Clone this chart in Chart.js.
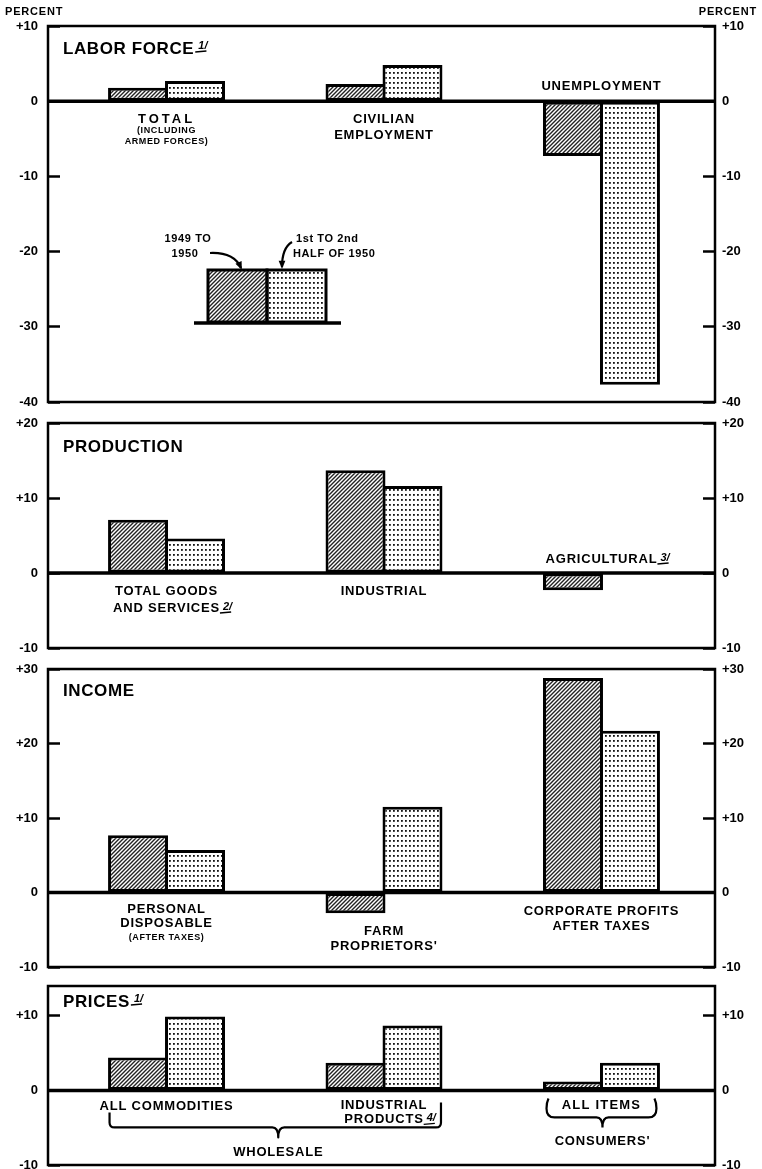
<!DOCTYPE html>
<html><head><meta charset="utf-8">
<script src="https://cdn.jsdelivr.net/npm/chart.js@4.4.1/dist/chart.umd.min.js"></script>
<style>
html,body{margin:0;padding:0;background:#fff;overflow:hidden;width:762px;height:1169px}
canvas{position:absolute;left:0}
</style></head><body>
<canvas id="c1"></canvas><canvas id="c2"></canvas><canvas id="c3"></canvas><canvas id="c4"></canvas>
<script>
// ---------- DATA ----------
const X_POS = [0, 1, 2];
const SERIES = ['1949 to 1950', '1st to 2nd half of 1950'];

const LABOR_CATS = ['Total (including armed forces)', 'Civilian employment', 'Unemployment'];
const LABOR_1949_50 = [1.8, 2.3, -7.3];
const LABOR_HALF_1950 = [2.7, 4.8, -37.7];
const LABOR_TICKS = [10, 0, -10, -20, -30, -40];

const PROD_CATS = ['Total goods and services', 'Industrial', 'Agricultural'];
const PROD_1949_50 = [7.1, 13.7, -2.3];
const PROD_HALF_1950 = [4.6, 11.6, 0];
const PROD_TICKS = [20, 10, 0, -10];

const INCOME_CATS = ['Personal disposable (after taxes)', "Farm proprietors'", 'Corporate profits after taxes'];
const INCOME_1949_50 = [7.7, -2.8, 28.8];
const INCOME_HALF_1950 = [5.7, 11.5, 21.7];
const INCOME_TICKS = [30, 20, 10, 0, -10];

const PRICE_CATS = ['Wholesale: all commodities', 'Wholesale: industrial products', "Consumers': all items"];
const PRICE_1949_50 = [4.4, 3.7, 1.2];
const PRICE_HALF_1950 = [9.9, 8.7, 3.7];
const PRICE_TICKS = [10, 0, -10];

// displayed texts
const LABOR_LABELS = [['TOTAL', '(INCLUDING', 'ARMED FORCES)'], ['CIVILIAN', 'EMPLOYMENT'], ['UNEMPLOYMENT']];
const PROD_LABELS = [['TOTAL GOODS', 'AND SERVICES'], ['INDUSTRIAL'], ['AGRICULTURAL']];
const INCOME_LABELS = [['PERSONAL', 'DISPOSABLE', '(AFTER TAXES)'], ['FARM', "PROPRIETORS'"], ['CORPORATE PROFITS', 'AFTER TAXES']];
const PRICE_LABELS = [['ALL COMMODITIES'], ['INDUSTRIAL', 'PRODUCTS'], ['ALL ITEMS']];

// ---------- STYLE / LAYOUT ----------
const FONT = '"Liberation Sans", Arial, sans-serif';
const X_MIN = -0.545, X_MAX = 2.522;
const CAT_PCT = 0.524, BAR_PCT = 1.0526;
const LBL = 13;

function hatchPattern() {
  const c = document.createElement('canvas'); c.width = 4; c.height = 4;
  const g = c.getContext('2d');
  g.fillStyle = '#fff'; g.fillRect(0, 0, 4, 4);
  g.strokeStyle = '#222'; g.lineWidth = 1.4;
  g.beginPath();
  g.moveTo(-1, 5); g.lineTo(5, -1);
  g.moveTo(-1, 1); g.lineTo(1, -1);
  g.moveTo(3, 5); g.lineTo(5, 3);
  g.stroke();
  return g.createPattern(c, 'repeat');
}
function dotPattern() {
  const c = document.createElement('canvas'); c.width = 4; c.height = 5;
  const g = c.getContext('2d');
  g.fillStyle = '#fff'; g.fillRect(0, 0, 4, 5);
  g.fillStyle = '#111'; g.fillRect(1, 2, 1.8, 1.8);
  return g.createPattern(c, 'repeat');
}
const HATCH = hatchPattern(), DOTS = dotPattern();

function txt(ctx, s, x, y, size, align, ls) {
  ctx.save();
  ctx.font = 'bold ' + size + 'px ' + FONT;
  ctx.fillStyle = '#000';
  ctx.textAlign = align || 'center';
  ctx.textBaseline = 'middle';
  ctx.letterSpacing = (ls === undefined ? 0.6 : ls) + 'px';
  ctx.fillText(s, x, y);
  const w = ctx.measureText(s).width;
  ctx.restore();
  return w;
}
function note(ctx, n, x, y) {
  ctx.save();
  ctx.font = 'bold italic 11px ' + FONT;
  ctx.fillStyle = '#000'; ctx.strokeStyle = '#000';
  ctx.textAlign = 'left'; ctx.textBaseline = 'alphabetic';
  const s = n + '/';
  ctx.fillText(s, x, y - 1);
  const w = ctx.measureText(s).width;
  ctx.lineWidth = 1.4;
  ctx.beginPath(); ctx.moveTo(x - 3, y + 2); ctx.lineTo(x + w - 1, y + 1); ctx.stroke();
  ctx.restore();
}
function title(chart, s, dy, n) {
  const a = chart.chartArea, ctx = chart.ctx;
  const w = txt(chart.ctx, s, a.left + 15, a.top + dy, 17, 'left', 0.6);
  if (n) note(ctx, n, a.left + 15 + w + 4, a.top + dy + 1);
}
// label lines: [text, dy from zero line, size, letterSpacing]
function catLabels(chart, i, lines, dx) {
  const x = chart.scales.x.getPixelForValue(X_POS[i]) + (dx || 0);
  const z = chart.scales.y.getPixelForValue(0);
  const ends = [];
  lines.forEach(l => {
    const w = txt(chart.ctx, l[0], x, z + l[1], l[2], 'center', l[3]);
    ends.push(x + w / 2);
  });
  return ends;
}
function frame(chart) {
  const {ctx, chartArea: a, scales: {y}} = chart;
  ctx.save(); ctx.strokeStyle = '#000';
  const z = y.getPixelForValue(0);
  ctx.lineWidth = 3.5;
  ctx.beginPath(); ctx.moveTo(a.left, z); ctx.lineTo(a.right, z); ctx.stroke();
  ctx.lineWidth = 2.5;
  ctx.strokeRect(a.left, a.top, a.right - a.left, a.bottom - a.top);
  ctx.restore();
}
function arrow(ctx, x0, y0, cx, cy, x1, y1) {
  ctx.save(); ctx.strokeStyle = '#000'; ctx.fillStyle = '#000';
  ctx.lineWidth = 2.2;
  ctx.beginPath(); ctx.moveTo(x0, y0); ctx.quadraticCurveTo(cx, cy, x1, y1); ctx.stroke();
  const ang = Math.atan2(y1 - cy, x1 - cx);
  ctx.beginPath(); ctx.moveTo(x1 + 2 * Math.cos(ang), y1 + 2 * Math.sin(ang));
  ctx.lineTo(x1 - 7 * Math.cos(ang - 0.5), y1 - 7 * Math.sin(ang - 0.5));
  ctx.lineTo(x1 - 7 * Math.cos(ang + 0.5), y1 - 7 * Math.sin(ang + 0.5));
  ctx.closePath(); ctx.fill();
  ctx.restore();
}

function buildChart(id, top, height, pt, pb, cats, v1, v2, ticks, min, max, draw) {
  const cv = document.getElementById(id);
  cv.width = 762; cv.height = height; cv.style.top = top + 'px';
  const yAxis = (pos) => ({
    type: 'linear', position: pos, min: min, max: max,
    afterBuildTicks: s => { s.ticks = ticks.map(v => ({value: v})); },
    afterFit: s => { s.width = pos === 'left' ? 48 : 47; s.paddingTop = 0; s.paddingBottom = 0; },
    grid: {display: true, drawOnChartArea: false, drawTicks: true, tickLength: -12, tickColor: '#000', tickWidth: 2.5},
    border: {display: false},
    ticks: {padding: pos === 'left' ? 22 : 19, color: '#000', font: {family: FONT, size: 13, weight: 'bold'},
      callback: v => (v > 0 ? '+' + v : String(v))}
  });
  const ds = (lbl, vals, bg) => ({
    label: lbl, data: X_POS.map((x, i) => ({x: x, y: vals[i]})),
    backgroundColor: bg, borderColor: '#000', borderWidth: 3, borderSkipped: false,
    categoryPercentage: CAT_PCT, barPercentage: BAR_PCT
  });
  return new Chart(cv, {
    type: 'bar',
    data: {labels: cats, datasets: [ds(SERIES[0], v1, HATCH), ds(SERIES[1], v2, DOTS)]},
    options: {
      responsive: false, animation: false, devicePixelRatio: 1,
      layout: {padding: {top: pt, bottom: pb, left: 0, right: 0}},
      plugins: {legend: {display: false}, tooltip: {enabled: false}},
      scales: {
        x: {type: 'linear', min: X_MIN, max: X_MAX, offset: false, display: false,
            afterBuildTicks: s => { s.ticks = X_POS.map(v => ({value: v})); }},
        y: yAxis('left'), y2: yAxis('right')
      }
    },
    plugins: [{id: 'deco', afterDatasetsDraw(chart) { frame(chart); draw(chart); }}]
  });
}

// ---------- PANEL 1 : LABOR FORCE ----------
buildChart('c1', 0, 412, 26, 10, LABOR_CATS, LABOR_1949_50, LABOR_HALF_1950, LABOR_TICKS, -40, 10, chart => {
  const ctx = chart.ctx;
  txt(ctx, 'PERCENT', 5, 12, 11, 'left', 0.8);
  txt(ctx, 'PERCENT', 757, 12, 11, 'right', 0.8);
  title(chart, 'LABOR FORCE', 23, '1');
  const L = LABOR_LABELS;
  catLabels(chart, 0, [[L[0][0], 18, LBL, 3], [L[0][1], 29, 9, 0.6], [L[0][2], 40, 9, 0.6]]);
  catLabels(chart, 1, [[L[1][0], 18, LBL, 0.8], [L[1][1], 34, LBL, 0.8]]);
  catLabels(chart, 2, [[L[2][0], -15, LBL, 0.8]]);
  // legend
  const bx = 208, bw = 59, by = 270, bh = 52;
  ctx.save();
  ctx.fillStyle = HATCH; ctx.fillRect(bx, by, bw, bh);
  ctx.fillStyle = DOTS; ctx.fillRect(bx + bw, by, bw, bh);
  ctx.strokeStyle = '#000'; ctx.lineWidth = 3;
  ctx.strokeRect(bx, by, bw, bh); ctx.strokeRect(bx + bw, by, bw, bh);
  ctx.lineWidth = 3.5;
  ctx.beginPath(); ctx.moveTo(bx - 14, by + bh + 1); ctx.lineTo(bx + 2 * bw + 15, by + bh + 1); ctx.stroke();
  ctx.restore();
  txt(ctx, '1949 TO', 188, by - 31, 11, 'center', 0.6);
  txt(ctx, '1950', 185, by - 16, 11, 'center', 0.6);
  txt(ctx, '1st TO 2nd', 296, by - 31, 11, 'left', 0.6);
  txt(ctx, 'HALF OF 1950', 293, by - 16, 11, 'left', 0.6);
  arrow(ctx, 210, by - 17, 234, by - 18, 241, by - 2);
  arrow(ctx, 292, by - 28, 282, by - 22, 282, by - 3);
});

// ---------- PANEL 2 : PRODUCTION ----------
buildChart('c2', 412, 246, 11, 10, PROD_CATS, PROD_1949_50, PROD_HALF_1950, PROD_TICKS, -10, 20, chart => {
  title(chart, 'PRODUCTION', 24);
  const L = PROD_LABELS;
  const z = chart.scales.y.getPixelForValue(0);
  catLabels(chart, 0, [[L[0][0], 18, LBL, 0.8]]);
  const e = catLabels(chart, 0, [[L[0][1], 35, LBL, 0.8]]);
  note(chart.ctx, '2', e[0] + 3, z + 38);
  catLabels(chart, 1, [[L[1][0], 18, LBL, 0.8]]);
  const e2 = catLabels(chart, 2, [[L[2][0], -14, LBL, 0.8]]);
  note(chart.ctx, '3', e2[0] + 3, z - 11);
});

// ---------- PANEL 3 : INCOME ----------
buildChart('c3', 658, 318, 11, 9, INCOME_CATS, INCOME_1949_50, INCOME_HALF_1950, INCOME_TICKS, -10, 30, chart => {
  title(chart, 'INCOME', 22);
  const L = INCOME_LABELS;
  catLabels(chart, 0, [[L[0][0], 17, LBL, 0.8], [L[0][1], 31, LBL, 0.8], [L[0][2], 45, 9, 0.6]]);
  catLabels(chart, 1, [[L[1][0], 39, LBL, 0.8], [L[1][1], 54, LBL, 0.8]]);
  catLabels(chart, 2, [[L[2][0], 19, LBL, 0.8], [L[2][1], 34, LBL, 0.8]]);
});

// ---------- PANEL 4 : PRICES ----------
buildChart('c4', 976, 200, 10, 11, PRICE_CATS, PRICE_1949_50, PRICE_HALF_1950, PRICE_TICKS, -10, 14, chart => {
  const ctx = chart.ctx, xs = chart.scales.x, z = chart.scales.y.getPixelForValue(0);
  title(chart, 'PRICES', 16, '1');
  const L = PRICE_LABELS;
  catLabels(chart, 0, [[L[0][0], 16, LBL, 0.8]]);
  catLabels(chart, 1, [[L[1][0], 15, LBL, 0.8]]);
  const e = catLabels(chart, 1, [[L[1][1], 29, LBL, 0.8]]);
  note(ctx, '4', e[0] + 3, z + 32);
  catLabels(chart, 2, [[L[2][0], 15, LBL, 1.2]]);
  const half = CAT_PCT / 2;
  ctx.save(); ctx.strokeStyle = '#000'; ctx.lineWidth = 2.2; ctx.lineJoin = 'round';
  // wholesale brace
  let Lx = xs.getPixelForValue(X_POS[0] - half), Rx = xs.getPixelForValue(X_POS[1] + half);
  let M = (xs.getPixelForValue(X_POS[0]) + xs.getPixelForValue(X_POS[1])) / 2 + 3, yh = z + 37;
  ctx.beginPath();
  ctx.moveTo(Lx, z + 22); ctx.lineTo(Lx, yh - 5); ctx.quadraticCurveTo(Lx, yh, Lx + 5, yh);
  ctx.lineTo(M - 6, yh); ctx.quadraticCurveTo(M, yh, M, yh + 10);
  ctx.quadraticCurveTo(M, yh, M + 6, yh); ctx.lineTo(Rx - 5, yh);
  ctx.quadraticCurveTo(Rx, yh, Rx, yh - 5); ctx.lineTo(Rx, z + 12);
  ctx.stroke();
  ctx.restore();
  txt(ctx, 'WHOLESALE', M, z + 62, LBL, 'center', 0.8);
  // consumers brace
  ctx.save(); ctx.strokeStyle = '#000'; ctx.lineWidth = 2.2;
  Lx = xs.getPixelForValue(X_POS[2] - half) + 2; Rx = xs.getPixelForValue(X_POS[2] + half) - 2;
  M = xs.getPixelForValue(X_POS[2]) + 1; yh = z + 27;
  ctx.beginPath();
  ctx.moveTo(Lx + 2, z + 8); ctx.quadraticCurveTo(Lx, z + 12, Lx, z + 18);
  ctx.quadraticCurveTo(Lx, yh, Lx + 8, yh); ctx.lineTo(M - 6, yh); ctx.quadraticCurveTo(M, yh, M, yh + 10);
  ctx.quadraticCurveTo(M, yh, M + 6, yh); ctx.lineTo(Rx - 8, yh);
  ctx.quadraticCurveTo(Rx, yh, Rx, z + 18); ctx.quadraticCurveTo(Rx, z + 12, Rx - 2, z + 8);
  ctx.stroke();
  ctx.restore();
  txt(ctx, "CONSUMERS'", M, z + 51, LBL, 'center', 0.8);
});
</script>
</body></html>
